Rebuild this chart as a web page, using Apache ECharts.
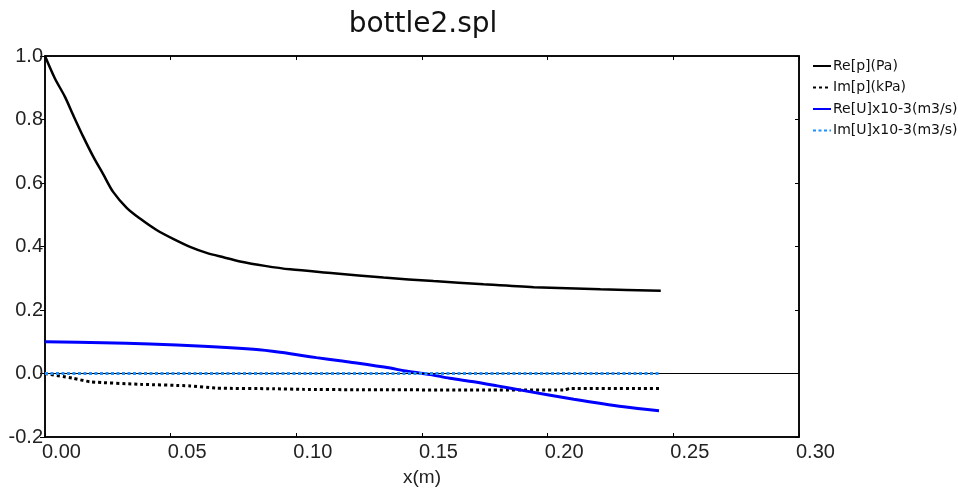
<!DOCTYPE html>
<html>
<head>
<meta charset="utf-8">
<script src="https://cdn.jsdelivr.net/npm/echarts@6/dist/echarts.min.js"></script>
<style>
html,body{margin:0;padding:0;background:#fff;}
#c{width:958px;height:490px;}
</style>
</head>
<body>
<div id="c"></div>
<script>
// ---- data ----
var titleText = 'bottle2.spl';
var xAxisName = 'x(m)';
var seriesNames = ['Re[p](Pa)', 'Im[p](kPa)', 'Re[U]x10-3(m3/s)', 'Im[U]x10-3(m3/s)'];

var reP_x = [0, 0.0039, 0.0079, 0.0112, 0.0152, 0.0192, 0.0232, 0.0271, 0.0325, 0.0378, 0.0444, 0.051, 0.0577, 0.0643, 0.071, 0.0776, 0.0875, 0.0975, 0.1148, 0.1347, 0.1546, 0.1745, 0.1945, 0.221, 0.245];
var reP_y = [1.0, 0.93, 0.872, 0.814, 0.746, 0.683, 0.627, 0.572, 0.522, 0.488, 0.452, 0.424, 0.399, 0.380, 0.366, 0.353, 0.339, 0.328, 0.316, 0.302, 0.291, 0.281, 0.272, 0.265, 0.261];

var imP_x = [0, 0.0112, 0.0179, 0.038, 0.0577, 0.068, 0.091, 0.1028, 0.124, 0.1774, 0.2064, 0.209, 0.245];
var imP_y = [0, -0.015, -0.026, -0.034, -0.039, -0.046, -0.048, -0.050, -0.051, -0.052, -0.052, -0.047, -0.047];

var reU_x = [0, 0.023, 0.0418, 0.063, 0.083, 0.0935, 0.1028, 0.108, 0.1174, 0.124, 0.1374, 0.1427, 0.1533, 0.161, 0.1706, 0.18, 0.1905, 0.2104, 0.2303, 0.2443];
var reU_y = [0.1, 0.097, 0.093, 0.086, 0.076, 0.067, 0.056, 0.050, 0.040, 0.033, 0.017, 0.009, -0.003, -0.015, -0.026, -0.039, -0.054, -0.081, -0.105, -0.117];

var imU_x = [0, 0.245];
var imU_y = [0, 0];

var zeroLineValue = 0;

var xMin = 0, xMax = 0.3, xStep = 0.05;
var yMin = -0.2, yMax = 1.0, yStep = 0.2;

function pairs(xs, ys) { return xs.map(function (x, i) { return [x, ys[i]]; }); }

var chart = echarts.init(document.getElementById('c'), null, {renderer: 'canvas'});
var axisFont = {fontFamily: 'Liberation Sans', fontSize: 20, color: '#222'};

var option = {
  animation: false,
  backgroundColor: '#fff',
  title: {
    text: titleText,
    left: 418,
    top: 6,
    textAlign: 'center',
    textStyle: {fontFamily: 'DejaVu Sans', fontSize: 28, fontWeight: 'normal', color: '#111'}
  },
  legend: {
    orient: 'vertical',
    left: 807,
    top: 54,
    itemWidth: 18,
    itemHeight: 12,
    itemGap: 7.5,
    itemStyle: {opacity: 0},
    textStyle: {fontFamily: 'DejaVu Sans', fontSize: 14, lineHeight: 14, color: '#111', padding: [0, 0, 0, -3]},
    data: seriesNames
  },
  grid: {left: 45, right: 159, top: 56, bottom: 53, outerBoundsMode: 'none', containLabel: false,
         show: true, borderColor: '#000', borderWidth: 1.5, backgroundColor: '#fff'},
  xAxis: [{
    type: 'value', min: xMin, max: xMax, interval: xStep, position: 'bottom',
    name: xAxisName, nameLocation: 'middle', nameGap: 31,
    nameTextStyle: {fontFamily: 'Liberation Sans', fontSize: 19, color: '#222'},
    axisLine: {show: true, onZero: false, lineStyle: {color: '#000', width: 1.5}},
    axisTick: {show: true, inside: true, length: 4, lineStyle: {color: '#000'}},
    axisLabel: Object.assign({margin: 5, align: 'left', padding: [0, 0, 0, -3], formatter: function (v) { return v.toFixed(2); }}, axisFont),
    splitLine: {show: false}
  }, {
    type: 'value', min: xMin, max: xMax, interval: xStep, position: 'top',
    axisLine: {show: true, onZero: false, lineStyle: {color: '#000', width: 1.5}},
    axisTick: {show: true, inside: true, length: 4, lineStyle: {color: '#000'}},
    axisLabel: {show: false}, splitLine: {show: false}
  }],
  yAxis: [{
    type: 'value', min: yMin, max: yMax, interval: yStep, position: 'left',
    axisLine: {show: true, onZero: false, lineStyle: {color: '#000', width: 1.5}},
    axisTick: {show: true, inside: false, length: 5, lineStyle: {color: '#000'}},
    axisLabel: Object.assign({margin: 2, formatter: function (v) { return v.toFixed(1); }}, axisFont),
    splitLine: {show: false}
  }, {
    type: 'value', min: yMin, max: yMax, interval: yStep, position: 'right',
    axisLine: {show: true, onZero: false, lineStyle: {color: '#000', width: 1.5}},
    axisTick: {show: true, inside: true, length: 4, lineStyle: {color: '#000'}},
    axisLabel: {show: false}, splitLine: {show: false}
  }],
  series: [{
    name: seriesNames[0], type: 'line', symbol: 'none', z: 1, smooth: 0.3, data: pairs(reP_x, reP_y),
    lineStyle: {color: '#000', width: 2.5}, itemStyle: {color: '#000'},
    markLine: {
      silent: true, symbol: 'none', label: {show: false},
      lineStyle: {color: '#000', width: 1, type: 'solid'},
      data: [{yAxis: zeroLineValue}]
    }
  }, {
    name: seriesNames[1], type: 'line', symbol: 'none', z: 3, smooth: 0.2, data: pairs(imP_x, imP_y),
    lineStyle: {color: '#000', width: 3, type: [3, 3]}, itemStyle: {color: '#000'}
  }, {
    name: seriesNames[2], type: 'line', symbol: 'none', z: 4, smooth: 0.3, data: pairs(reU_x, reU_y),
    lineStyle: {color: '#0000ff', width: 3}, itemStyle: {color: '#0000ff'}
  }, {
    name: seriesNames[3], type: 'line', symbol: 'none', z: 5, data: pairs(imU_x, imU_y),
    lineStyle: {color: '#1e90ff', width: 3, type: [3, 2.5]}, itemStyle: {color: '#1e90ff'}
  }]
};
chart.setOption(option);
</script>
</body>
</html>
